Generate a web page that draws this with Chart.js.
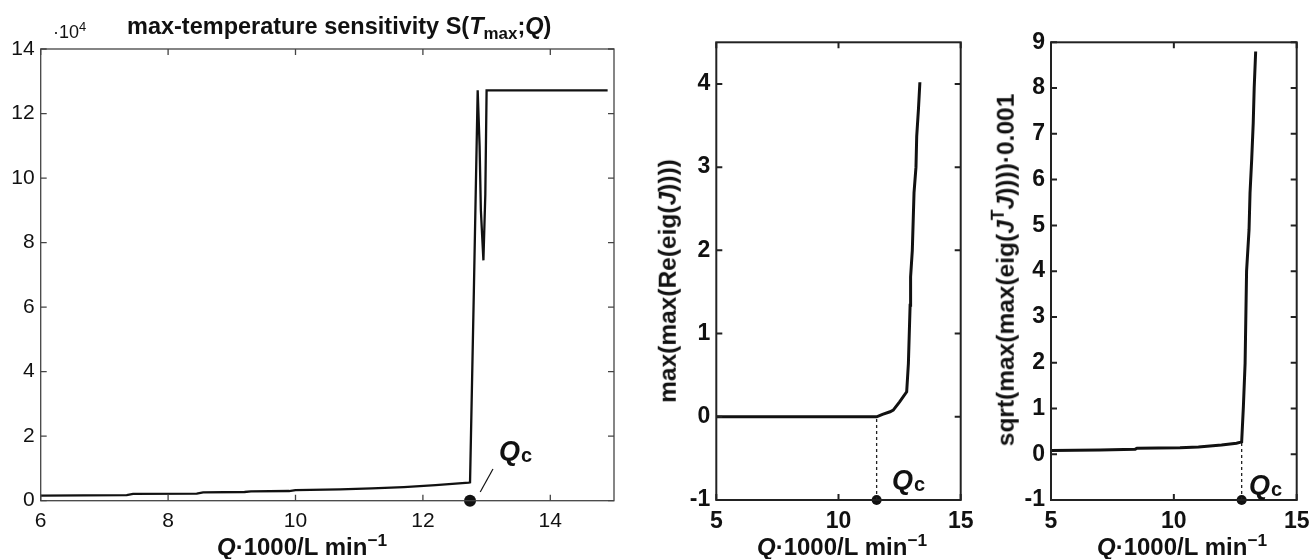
<!DOCTYPE html>
<html>
<head>
<meta charset="utf-8">
<script src="https://cdn.jsdelivr.net/npm/chart.js@4.4.1/dist/chart.umd.min.js"></script>
<style>
  body { margin: 0; background: #fff; }
  #wrap { position: relative; width: 1311px; height: 559px; overflow: hidden; font-family: "Liberation Sans", Arial, sans-serif; color: #111; }
  canvas { position: absolute; top: 0; }
  .lbl { position: absolute; white-space: nowrap; line-height: 1; }
  .b { font-weight: bold; }
  .sup { position: relative; font-size: 0.72em; top: -0.55em; }
  .sub { position: relative; font-size: 0.72em; top: 0.3em; }
  .xt { font-size: 24px; font-weight: bold; transform: translateX(-50%); }
  .yt { font-size: 24.5px; font-weight: bold; transform: translate(-50%, -50%) rotate(-90deg); }
  .qc { font-size: 27px; font-weight: bold; }
  .qc span { font-size: 20px; position: relative; top: 2px; margin-left: 1px; font-style: normal; }
</style>
</head>
<body>
<div id="wrap">
  <canvas id="c1" width="660" height="559" style="left:0"></canvas>
  <canvas id="c2" width="330" height="559" style="left:660px"></canvas>
  <canvas id="c3" width="321" height="559" style="left:990px"></canvas>

  <div class="lbl" style="left:53px; top:23px; font-size:18px;">·10<span class="sup">4</span></div>
  <div class="lbl b" style="left:127px; top:15px; font-size:23.5px;">max-temperature sensitivity S(<i>T</i><span class="sub">max</span>;<i>Q</i>)</div>

  <div class="lbl xt" style="left:302px; top:535px;"><i>Q</i>·1000/L min<span class="sup">−1</span></div>
  <div class="lbl xt" style="left:842px; top:535px;"><i>Q</i>·1000/L min<span class="sup">−1</span></div>
  <div class="lbl xt" style="left:1182px; top:535px;"><i>Q</i>·1000/L min<span class="sup">−1</span></div>

  <div class="lbl yt" style="left:668px; top:281px;">max(max(Re(eig(<i>J</i>))))</div>
  <div class="lbl yt" style="left:1006px; top:270px;">sqrt(max(max(eig(<i>J</i><span class="sup">T</span><i>J</i>))))·0.001</div>

  <div class="lbl qc" style="left:499px; top:438px;"><i>Q</i><span>c</span></div>
  <div class="lbl qc" style="left:892px; top:467px;"><i>Q</i><span>c</span></div>
  <div class="lbl qc" style="left:1249px; top:472px;"><i>Q</i><span>c</span></div>
</div>

<script>
// ==== data (Q·1000 / L min^-1) ====
// panel 1: S(Tmax;Q) in units of 10^4
const sQ = [6.0, 7.35, 7.45, 8.45, 8.55, 9.2, 9.3, 9.9, 10.0, 10.7, 11.2, 11.7, 12.2, 12.72, 12.74, 12.80, 12.86, 12.89, 12.91, 12.95, 12.98, 13.0, 14.9];
const sVal = [0.16, 0.17, 0.21, 0.22, 0.26, 0.27, 0.29, 0.30, 0.33, 0.35, 0.38, 0.42, 0.48, 0.56, 0.57, 6.5, 12.72, 11.0, 9.0, 7.45, 9.5, 12.72, 12.72];
const qc1 = 12.74;
const qc1Leader = [[12.90, 0.27], [13.10, 0.98]];

// panel 2: max(max(Re(eig(J))))
const eQ = [5, 11.56, 11.8, 12.11, 12.24, 12.5, 12.79, 12.86, 12.93, 12.95, 13.02, 13.09, 13.17, 13.2, 13.27, 13.33];
const eVal = [0, 0, 0.03, 0.06, 0.08, 0.18, 0.30, 0.64, 1.34, 1.68, 2.0, 2.69, 3.0, 3.37, 3.69, 4.02];
const qc2 = 11.56;

// panel 3: sqrt(max(max(eig(J'J))))*0.001
const jQ = [5, 7, 8.43, 8.5, 10.25, 11.0, 11.94, 12.55, 12.76, 12.83, 12.9, 12.96, 13.06, 13.1, 13.17, 13.23, 13.27, 13.33];
const jVal = [0.08, 0.09, 0.11, 0.13, 0.14, 0.16, 0.2, 0.24, 0.27, 1.04, 1.99, 4.0, 4.9, 5.7, 6.46, 7.23, 8.0, 8.8];
const qc3 = 12.76;

const toPts = (xs, ys) => xs.map((x, i) => ({ x: x, y: ys[i] }));

// frame + inward ticks on all 4 sides (matlab style)
const framePlugin = {
    id: 'frame',
    afterDraw(chart, args, o) {
        const { ctx, chartArea: a } = chart;
        const x = chart.scales.x, y = chart.scales.y;
        ctx.save();
        ctx.strokeStyle = o.color;
        ctx.lineWidth = o.width;
        ctx.beginPath();
        for (const t of x.ticks) {
            const px = x.getPixelForValue(t.value);
            ctx.moveTo(px, a.bottom); ctx.lineTo(px, a.bottom - o.len);
            ctx.moveTo(px, a.top); ctx.lineTo(px, a.top + o.len);
        }
        for (const t of y.ticks) {
            const py = y.getPixelForValue(t.value);
            ctx.moveTo(a.left, py); ctx.lineTo(a.left + o.len, py);
            ctx.moveTo(a.right, py); ctx.lineTo(a.right - o.len, py);
        }
        ctx.stroke();
        ctx.strokeRect(a.left, a.top, a.right - a.left, a.bottom - a.top);
        ctx.restore();
    }
};

function axis(min, max, step, font, fixed, horiz) {
    return {
        type: 'linear', min: min, max: max,
        ticks: {
            stepSize: step, includeBounds: false, autoSkip: false, maxRotation: 0,
            color: '#111', font: font, padding: horiz ? 8 : 6
        },
        grid: { display: false, drawTicks: false },
        border: { display: false },
        afterFit: s => {
            if (horiz) s.height = fixed; else s.width = fixed;
            s.paddingLeft = 0; s.paddingRight = 0; s.paddingTop = 0; s.paddingBottom = 0;
        }
    };
}

function makeChart(id, cfg) {
    const font = cfg.font;
    return new Chart(document.getElementById(id), {
        type: 'line',
        data: { datasets: cfg.datasets },
        options: {
            responsive: false, animation: false, devicePixelRatio: 1,
            layout: { padding: cfg.pad },
            plugins: { legend: { display: false }, tooltip: { enabled: false }, frame: cfg.frame },
            elements: { point: { radius: 0 }, line: { tension: 0 } },
            scales: {
                x: axis(cfg.x[0], cfg.x[1], cfg.x[2], font, cfg.xh, true),
                y: axis(cfg.y[0], cfg.y[1], cfg.y[2], font, cfg.yw, false)
            }
        },
        plugins: [framePlugin]
    });
}

const fam = '"Liberation Sans", Arial, sans-serif';

// ==== panel 1 ====
makeChart('c1', {
    font: { family: fam, size: 21 },
    pad: { top: 49, right: 46, left: 0, bottom: 0 },
    x: [6, 15, 2], y: [0, 14, 2], xh: 58.3, yw: 40.7,
    frame: { color: '#444', width: 1.3, len: 6 },
    datasets: [
        { data: toPts(sQ, sVal), borderColor: '#111', borderWidth: 2.3, clip: false },
        { data: qc1Leader.map(p => ({ x: p[0], y: p[1] })), borderColor: '#111', borderWidth: 1.2 },
        { data: [{ x: qc1, y: 0 }], showLine: false, pointRadius: 6, pointBackgroundColor: '#111', pointBorderWidth: 0, clip: false }
    ]
});

// ==== panel 2 ====
makeChart('c2', {
    font: { family: fam, size: 23, weight: 'bold' },
    pad: { top: 42.3, right: 29.3, left: 0, bottom: 0 },
    x: [5, 15, 5], y: [-1, 4.5, 1], xh: 59, yw: 56.3,
    frame: { color: '#222', width: 2, len: 6 },
    datasets: [
        { data: toPts(eQ, eVal), borderColor: '#111', borderWidth: 3 },
        { data: [{ x: qc2, y: -1 }, { x: qc2, y: 0 }], borderColor: '#222', borderWidth: 1.3, borderDash: [3, 3] },
        { data: [{ x: qc2, y: -1 }], showLine: false, pointRadius: 5, pointBackgroundColor: '#111', pointBorderWidth: 0, clip: false }
    ]
});

// ==== panel 3 ====
makeChart('c3', {
    font: { family: fam, size: 23, weight: 'bold' },
    pad: { top: 42.3, right: 14.3, left: 0, bottom: 0 },
    x: [5, 15, 5], y: [-1, 9, 1], xh: 59, yw: 61,
    frame: { color: '#222', width: 2, len: 6 },
    datasets: [
        { data: toPts(jQ, jVal), borderColor: '#111', borderWidth: 3 },
        { data: [{ x: qc3, y: -1 }, { x: qc3, y: 0.27 }], borderColor: '#222', borderWidth: 1.3, borderDash: [3, 3] },
        { data: [{ x: qc3, y: -1 }], showLine: false, pointRadius: 5, pointBackgroundColor: '#111', pointBorderWidth: 0, clip: false }
    ]
});
</script>
</body>
</html>
